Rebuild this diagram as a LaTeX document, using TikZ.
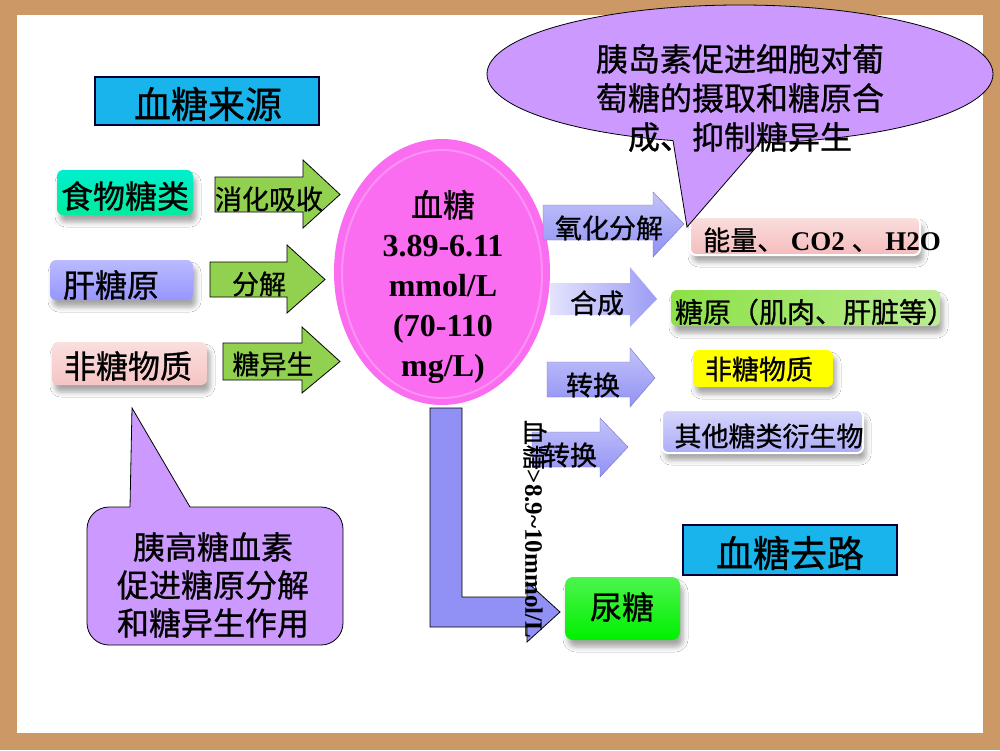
\documentclass[tikz,border=0pt]{standalone}
\usepackage{fontspec}
\setmainfont{Liberation Serif}
\newfontfamily\cjk[FakeBold=0.8]{Noto Sans CJK SC}
\usetikzlibrary{shapes.geometric,shadows.blur}
\definecolor{bgbrown}{RGB}{204,153,102}
\definecolor{titlecyan}{RGB}{25,180,235}
\definecolor{foodteal}{RGB}{0,232,185}
\definecolor{liverblue}{RGB}{150,150,255}
\definecolor{nonpink}{RGB}{246,196,196}
\definecolor{arrgreen}{RGB}{146,208,80}
\definecolor{arrblue}{RGB}{145,145,245}
\definecolor{calloutc}{RGB}{204,153,255}
\definecolor{bloodpink}{RGB}{250,108,240}
\definecolor{glygreen}{RGB}{140,225,70}
\definecolor{yellowbox}{RGB}{255,255,0}
\definecolor{otherblue}{RGB}{172,172,248}
\definecolor{urinegreen}{RGB}{0,240,0}
\definecolor{energypink}{RGB}{245,188,188}
\begin{document}
\begin{tikzpicture}[x=1pt,y=-1pt,
  cnS/.style={font=\cjk\fontsize{27}{32}\selectfont, inner sep=0pt},
  cnM/.style={font=\cjk\fontsize{32}{38}\selectfont, inner sep=0pt},
  cnL/.style={font=\cjk\fontsize{37}{44}\selectfont, inner sep=0pt},
  sbox/.style={rounded corners=6pt, inner sep=0pt,
    blur shadow={shadow xshift=3pt, shadow yshift=-7pt, shadow blur radius=5pt, shadow opacity=35}},
  titlebox/.style={draw=black!80!blue, line width=1.2pt, fill=titlecyan, inner sep=0pt},
  garrow/.style={fill=arrgreen, draw=black, line width=0.8pt, line join=miter},
  barrow/.style={top color=arrblue!55!white, bottom color=arrblue, draw=arrblue!80!black, line width=0.4pt},
  callout/.style={fill=calloutc, draw=black, line width=0.8pt}
]
% background
\fill[bgbrown] (0,0) rectangle (1000,750);
\fill[white] (17,15) rectangle (983,733);
\useasboundingbox (0,0) rectangle (1000,750);

% ---------- title: sources
\node[titlebox, minimum width=224pt, minimum height=48pt] (src) at (207,101) {};
\node[cnL] (srct) at (208,104) {血糖来源};

% ---------- source boxes
\node[sbox, top color=foodteal!70!cyan, bottom color=foodteal!85!green, minimum width=136pt, minimum height=45pt] (food) at (125,192.5) {};
\node[cnM] (foodt) at (125,196) {食物糖类};
\node[sbox, top color=liverblue!65!white, bottom color=liverblue, minimum width=143pt, minimum height=40pt] (liver) at (121.5,280) {};
\node[cnM] (livert) at (111,285) {肝糖原};
\node[sbox, top color=nonpink!55!white, bottom color=nonpink, minimum width=155pt, minimum height=43pt] (nons) at (129.5,363.5) {};
\node[cnM] (nonst) at (128,366) {非糖物质};

% ---------- green arrows
\draw[garrow] (215,177) -- (303,177) -- (303,160) -- (340,194.5) -- (303,228) -- (303,212) -- (215,212) -- cycle;
\node[cnS] (a1t) at (269,199) {消化吸收};
\draw[garrow] (210,262) -- (287,262) -- (287,245) -- (325,279.5) -- (287,313) -- (287,297) -- (210,297) -- cycle;
\node[cnS] (a2t) at (259,284) {分解};
\draw[garrow] (223,343) -- (302,343) -- (302,327) -- (340,361.5) -- (302,393) -- (302,380) -- (223,380) -- cycle;
\node[cnS] (a3t) at (273,364) {糖异生};

% ---------- central blood sugar ellipse
\node[ellipse, fill=bloodpink, minimum width=216pt, minimum height=266pt, inner sep=0pt] (blood) at (442,272) {};
\draw[bloodpink!75!white, line width=2pt] (442,274) ellipse [x radius=100pt, y radius=124pt];
\node[align=center, inner sep=0pt, font=\bfseries\fontsize{32}{40}\selectfont] (bloodt) at (443,287)
  {{\cjk\mdseries 血糖}\\3.89-6.11\\mmol/L\\(70-110\\mg/L)};

% ---------- right side arrows
\draw[barrow] (543,205) -- (653,205) -- (653,192) -- (684,224) -- (653,257) -- (653,240) -- (543,240) -- cycle;
\node[cnS] (o1t) at (609,228) {氧化分解};
\shade[left color=arrblue!25!white, right color=arrblue!90!white] (550,283) -- (630,283) -- (630,267) -- (657,299) -- (630,327) -- (630,315) -- (550,315) -- cycle;
\node[cnS] (o2t) at (597,303) {合成};
\draw[barrow] (547,362) -- (630,362) -- (630,348) -- (655,378) -- (630,407) -- (630,397) -- (547,397) -- cycle;
\node[cnS] (o3t) at (593,385) {转换};

% ---------- L arrow to urine sugar
\draw[fill=arrblue, draw=black, line width=0.8pt, line join=miter]
  (430,408) -- (462,408) -- (462,597) -- (527,597) -- (527,582) -- (560,612) -- (527,642) -- (527,627) -- (430,627) -- cycle;

\draw[barrow] (532,432) -- (600,432) -- (600,418) -- (628,447) -- (600,477) -- (600,467) -- (532,467) -- cycle;
\node[cnS] (o4t) at (570,455) {转换};

% ---------- destination boxes
\node[sbox, draw=white, line width=2pt, top color=energypink!50!white, bottom color=energypink, minimum width=230pt, minimum height=38pt] (energy) at (805,236) {};
\node[anchor=west, inner sep=0pt, font=\fontsize{27}{32}\selectfont] (energyt) at (703,240)
  {{\cjk 能量、} {\bfseries CO2} {\cjk 、} {\bfseries H2O}};
\node[sbox, left color=glygreen, right color=glygreen!60!white, minimum width=269pt, minimum height=36pt] (glyco) at (805.5,308) {};
\node[cnS, font=\cjk\fontsize{28}{32}\selectfont] (glycot) at (815,312) {糖原（肌肉、肝脏等）};
\node[sbox, fill=yellowbox, minimum width=140pt, minimum height=37pt] (nsy) at (763,368.5) {};
\node[cnS] (nsyt) at (759,369) {非糖物质};
\node[sbox, draw=white, line width=2pt, top color=otherblue!50!white, bottom color=otherblue, minimum width=201pt, minimum height=43pt] (other) at (762.5,431.5) {};
\node[cnS] (othert) at (769,436) {其他糖类衍生物};
\node[sbox, rounded corners=8pt, top color=urinegreen!70!white, bottom color=urinegreen, minimum width=115pt, minimum height=63pt] (urine) at (622.5,608.5) {};
\node[cnM] (urinet) at (622,607) {尿糖};

% ---------- title: destinations
\node[titlebox, minimum width=214pt, minimum height=50pt] (dst) at (790,550) {};
\node[cnL] (dstt) at (790,553) {血糖去路};

% ---------- vertical threshold text
\node[rotate=-90, inner sep=0pt, font=\fontsize{25}{30}\selectfont] (hyper) at (535,529)
  {{\cjk 血糖}\textbf{>8.9\textasciitilde10mmol/L}};

% ---------- insulin callout
\draw[callout] (740,74) ellipse [x radius=253pt, y radius=69pt];
\fill[calloutc] (673,128) -- (673,140.5) -- (687,227) -- (760,142.8) -- (760,128) -- cycle;
\draw[black, line width=0.8pt, line join=miter] (673,140.5) -- (687,227) -- (760,142.8);
\node[cnM, align=center, font=\cjk\fontsize{32}{39}\selectfont] (insul) at (740,98)
  {胰岛素促进细胞对葡\\萄糖的摄取和糖原合\\成、抑制糖异生};

% ---------- glucagon callout
\draw[callout, rounded corners=22pt] (87,507) rectangle (343,645);
\fill[calloutc] (130,515) -- (130,507) -- (132,408) -- (190,507) -- (190,515) -- cycle;
\draw[black, line width=0.8pt, line join=miter] (130,507) -- (132,408) -- (190,507);
\node[cnM, align=center, font=\cjk\fontsize{32}{38}\selectfont] (gluc) at (213,585)
  {胰高糖血素\\促进糖原分解\\和糖异生作用};
\end{tikzpicture}
\end{document}
